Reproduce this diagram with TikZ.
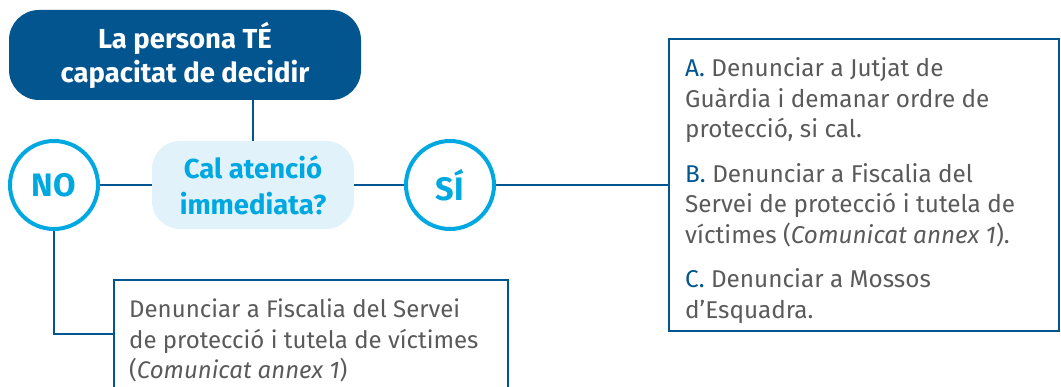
\documentclass[tikz,border=0pt]{standalone}
\usepackage{fontspec}
\setmainfont{Fira Sans}
\definecolor{dblue}{HTML}{03558F}
\definecolor{cyanb}{HTML}{00A8E1}
\definecolor{lfill}{HTML}{E1F2FB}
\definecolor{gtext}{HTML}{5A5A5A}
\begin{document}
\begin{tikzpicture}[x=1pt,y=-1pt,
  conn/.style={draw=dblue,line width=1.3pt},
  headbox/.style={fill=dblue,rounded corners=30pt,minimum width=352pt,minimum height=90pt,text=white,font=\bfseries\fontsize{27.5}{34}\selectfont,align=center,inner sep=0pt},
  qbox/.style={fill=lfill,rounded corners=28pt,minimum width=202pt,minimum height=88pt,text=cyanb,font=\bfseries\fontsize{27.5}{36}\selectfont,align=center,inner sep=0pt},
  answer/.style={circle,draw=cyanb,line width=4pt,minimum size=88pt,inner sep=0pt,text=cyanb,font=\bfseries\fontsize{32.5}{34}\selectfont},
  outbox/.style={draw=dblue,line width=1.3pt,inner sep=0pt},
  body/.style={text=gtext,inner sep=0pt,anchor=base west},
]
\useasboundingbox (0,0) rectangle (1061,387);
\node[headbox] (top) at (185,55) {La persona TÉ\\capacitat de decidir};
\node[qbox] (cal) at (253,185) {Cal atenció\\immediata?};
\node[answer] (no) at (54,185) {NO};
\node[answer] (si) at (450,185) {SÍ};
\node[outbox,minimum width=390pt,minimum height=292pt] (rbox) at (864,185) {};
\node[outbox,minimum width=394pt,minimum height=108pt] (lbox) at (311,334) {};
\node[body] (rtext) at (685,77) {\parbox[t]{370pt}{\fontsize{24.3}{30.5}\selectfont\raggedright\leavevmode
{\color{dblue}A.} Denunciar a Jutjat de\\Guàrdia i demanar ordre de\\protecció, si cal.\\[14pt]{\color{dblue}B.} Denunciar a Fiscalia del\\Servei de protecció i tutela de\\víctimes (\textit{Comunicat annex 1}).\\[14pt]{\color{dblue}C.} Denunciar a Mossos\\d’Esquadra.}};
\node[body] (ltext) at (129,318) {\parbox[t]{370pt}{\fontsize{24}{30.5}\selectfont\raggedright\leavevmode
Denunciar a Fiscalia del Servei\\de protecció i tutela de víctimes\\(\textit{Comunicat annex 1})}};
\draw[conn] (top.south -| cal.north) -- (cal.north);
\draw[conn] (no.east) -- (cal.west);
\draw[conn] (cal.east) -- (si.west);
\draw[conn] (si.east) -- (rbox.west);
\draw[conn] (no.south) |- (lbox.west);
\end{tikzpicture}
\end{document}
